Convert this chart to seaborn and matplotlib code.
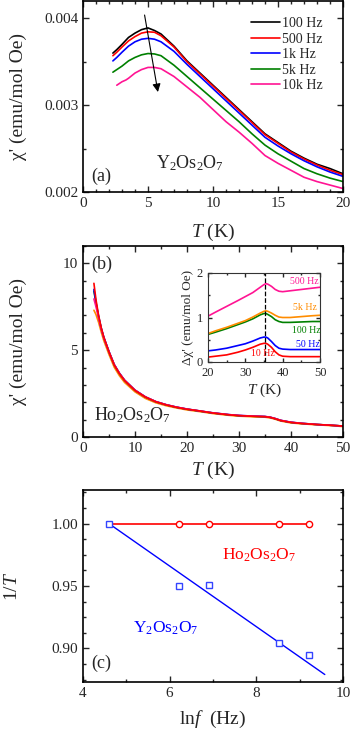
import numpy as np
import matplotlib
matplotlib.use("Agg")
import matplotlib.pyplot as plt
import seaborn as sns
from matplotlib.ticker import MultipleLocator, FormatStrFormatter

# ---- panel (a) : Y2Os2O7 chi' vs T ----
T_a = [2.3, 2.6, 3.0, 3.5, 4.0, 4.5, 5.0, 5.5, 6.0, 7.0, 8.0, 9.0, 10, 11, 12, 13, 14, 15, 16, 17, 18, 19, 20]
chi_100 = [3.60, 3.64, 3.70, 3.78, 3.83, 3.87, 3.89, 3.86, 3.82, 3.68, 3.51, 3.37, 3.23, 3.09, 2.95, 2.81, 2.67, 2.57, 2.47, 2.39, 2.32, 2.27, 2.21]
chi_500 = [3.57, 3.61, 3.67, 3.74, 3.79, 3.83, 3.845, 3.84, 3.80, 3.67, 3.50, 3.36, 3.22, 3.08, 2.94, 2.80, 2.66, 2.56, 2.46, 2.38, 2.31, 2.25, 2.20]
chi_1k = [3.51, 3.55, 3.61, 3.68, 3.73, 3.76, 3.77, 3.76, 3.73, 3.62, 3.47, 3.33, 3.19, 3.05, 2.91, 2.77, 2.63, 2.53, 2.44, 2.36, 2.29, 2.23, 2.18]
chi_5k = [3.38, 3.41, 3.45, 3.51, 3.55, 3.58, 3.595, 3.59, 3.57, 3.46, 3.33, 3.20, 3.07, 2.94, 2.81, 2.67, 2.54, 2.44, 2.355, 2.27, 2.21, 2.16, 2.12]
T_a10k = [2.6, 3.0, 3.3, 3.5, 4.0, 4.5, 5.0, 5.5, 6.0, 7.0, 8.0, 9.0, 10, 11, 12, 13, 14, 15, 16, 17, 18, 19, 20]
chi_10k = [3.23, 3.27, 3.29, 3.31, 3.37, 3.41, 3.435, 3.435, 3.42, 3.33, 3.21, 3.09, 2.95, 2.81, 2.69, 2.56, 2.42, 2.33, 2.25, 2.17, 2.12, 2.08, 2.04]
labels_a = ["100 Hz", "500 Hz", "1k Hz", "5k Hz", "10k Hz"]
colors_a = ["black", "#ff0000", "#0000ff", "#008000", "#ff1493"]

# ---- panel (b) : Ho2Os2O7 chi' vs T ----
T_b = [2.1, 2.5, 3, 3.5, 4, 5, 6, 7, 8, 10, 12, 14, 16, 18, 20, 22, 25, 28, 30, 33, 35, 36, 37, 38, 40, 42, 45, 48, 50]
ho_10 = [8.85, 7.90, 7.00, 6.30, 5.75, 4.90, 4.15, 3.65, 3.25, 2.68, 2.30, 2.03, 1.85, 1.71, 1.60, 1.52, 1.38, 1.28, 1.23, 1.19, 1.17, 1.13, 1.05, 0.95, 0.84, 0.78, 0.72, 0.67, 0.63]
ho_50 = [8.50, 7.75, 6.95, 6.28, 5.75, 4.92, 4.18, 3.68, 3.27, 2.70, 2.31, 2.04, 1.86, 1.72, 1.61, 1.52, 1.39, 1.29, 1.24, 1.20, 1.18, 1.14, 1.06, 0.96, 0.85, 0.79, 0.72, 0.67, 0.63]
ho_100 = [8.40, 7.70, 6.92, 6.25, 5.72, 4.90, 4.16, 3.66, 3.26, 2.69, 2.30, 2.03, 1.85, 1.71, 1.60, 1.51, 1.38, 1.28, 1.23, 1.19, 1.17, 1.13, 1.05, 0.95, 0.84, 0.78, 0.72, 0.67, 0.63]
ho_500 = [7.95, 7.50, 6.85, 6.22, 5.70, 4.90, 4.17, 3.67, 3.27, 2.70, 2.31, 2.04, 1.86, 1.72, 1.61, 1.52, 1.39, 1.29, 1.24, 1.20, 1.18, 1.14, 1.06, 0.96, 0.85, 0.79, 0.72, 0.67, 0.63]
ho_5k = [7.30, 7.05, 6.60, 6.05, 5.55, 4.75, 4.02, 3.53, 3.14, 2.60, 2.22, 1.97, 1.80, 1.67, 1.56, 1.48, 1.35, 1.25, 1.20, 1.16, 1.14, 1.10, 1.02, 0.92, 0.81, 0.76, 0.70, 0.65, 0.60]

# ---- inset : delta chi' ----
T_in = [20, 22, 25, 28, 30, 32, 34, 35, 35.5, 36, 37, 38, 39, 40, 42, 45, 48, 50]
d_500 = [1.03, 1.12, 1.25, 1.38, 1.47, 1.56, 1.68, 1.74, 1.76, 1.75, 1.70, 1.63, 1.59, 1.58, 1.60, 1.63, 1.66, 1.68]
d_5k = [0.64, 0.70, 0.78, 0.87, 0.93, 1.01, 1.10, 1.14, 1.15, 1.14, 1.10, 1.05, 1.01, 1.00, 1.00, 1.02, 1.04, 1.05]
d_100 = [0.62, 0.67, 0.75, 0.84, 0.90, 0.97, 1.06, 1.09, 1.09, 1.07, 1.02, 0.95, 0.91, 0.89, 0.89, 0.90, 0.91, 0.91]
d_50 = [0.25, 0.27, 0.31, 0.37, 0.41, 0.47, 0.54, 0.56, 0.56, 0.54, 0.46, 0.37, 0.31, 0.29, 0.28, 0.28, 0.28, 0.28]
d_10 = [0.11, 0.13, 0.16, 0.22, 0.27, 0.33, 0.40, 0.42, 0.42, 0.40, 0.33, 0.23, 0.16, 0.13, 0.12, 0.12, 0.12, 0.12]
T_peak = 35.2

# ---- panel (c) : 1/T vs ln f ----
lnf = [4.605, 6.215, 6.908, 8.517, 9.210]
inv_ho = [1.000, 1.000, 1.000, 1.000, 1.000]
inv_y = [1.000, 0.950, 0.951, 0.904, 0.895]
fit_x = [4.6, 9.58]
fit_y = [1.000, 0.879]

sns.set_style("ticks")
plt.rcParams['font.family'] = ['Liberation Serif', 'DejaVu Serif']
plt.rcParams['mathtext.fontset'] = 'custom'
plt.rcParams['mathtext.rm'] = 'Liberation Serif'
plt.rcParams['mathtext.it'] = 'Liberation Serif:italic'
plt.rcParams['axes.linewidth'] = 1.2
plt.rcParams['axes.edgecolor'] = 'black'

W, H = 354, 731
fig = plt.figure(figsize=(W / 100, H / 100), dpi=100)

def box(l, t, r, b):
    return [l / W, 1 - b / H, (r - l) / W, (b - t) / H]

def style(ax, xmin, ymin, size=11, major=4, minor=2):
    ax.xaxis.set_minor_locator(MultipleLocator(xmin))
    ax.yaxis.set_minor_locator(MultipleLocator(ymin))
    ax.tick_params(which='both', direction='in', top=True, right=True, labelsize=size, width=1)
    ax.tick_params(which='major', length=major)
    ax.tick_params(which='minor', length=minor)

ax_a = fig.add_axes(box(83, 1, 343, 192))
ax_b = fig.add_axes(box(83, 246, 343, 437))
ax_in = fig.add_axes(box(208, 273, 320, 362))
ax_c = fig.add_axes(box(83, 490, 343, 682))

# (a)
series_a = [(T_a, chi_100), (T_a, chi_500), (T_a, chi_1k), (T_a, chi_5k), (T_a10k, chi_10k)]
for (tt, vv), lab, col in zip(series_a, labels_a, colors_a):
    sns.lineplot(x=tt, y=np.array(vv) * 1e-3, ax=ax_a, color=col, lw=1.2, label=lab)
ax_a.set_xlim(0, 20)
ax_a.set_ylim(0.002, 0.0042)
ax_a.xaxis.set_major_locator(MultipleLocator(5))
ax_a.yaxis.set_major_locator(MultipleLocator(0.001))
ax_a.yaxis.set_major_formatter(FormatStrFormatter('%.3f'))
style(ax_a, 1, 0.0005)
ax_a.legend(loc='upper left', bbox_to_anchor=((251 - 83) / 260, 0.915), frameon=False,
            fontsize=10, handlelength=2.1, handletextpad=0.15, labelspacing=0.18,
            borderaxespad=0, borderpad=0)
ax_a.annotate('', xy=(5.8, 0.00312), xytext=(4.7, 0.00407),
              arrowprops=dict(arrowstyle='-|>', color='black', lw=0.8, mutation_scale=12))
ax_a.text(0.65, 0.00213, '(a)', fontsize=13, va='baseline')
ax_a.text(5.6, 0.00227, 'Y$_2$Os$_2$O$_7$', fontsize=13, va='baseline')
ax_a.set_xlabel('$T$ (K)', fontsize=14)
ax_a.set_ylabel("\u03c7' (emu/mol Oe)", fontsize=14)
ax_a.xaxis.set_label_coords(0.5, -0.155)
ax_a.yaxis.set_label_coords(-0.215, 0.5)

# (b)
series_b = [(ho_5k, "#ff8c00"), (ho_100, "#008000"), (ho_50, "#0000ff"), (ho_500, "#ff1493"), (ho_10, "#ff0000")]
for vv, col in series_b:
    sns.lineplot(x=T_b, y=vv, ax=ax_b, color=col, lw=1.2)
ax_b.set_xlim(0, 50)
ax_b.set_ylim(0, 11)
ax_b.xaxis.set_major_locator(MultipleLocator(10))
ax_b.yaxis.set_major_locator(MultipleLocator(5))
style(ax_b, 5, 1)
ax_b.text(1.6, 9.95, '(b)', fontsize=13, va='center')
ax_b.text(2.2, 0.95, 'Ho$_2$Os$_2$O$_7$', fontsize=13, va='baseline')
ax_b.set_xlabel('$T$ (K)', fontsize=14)
ax_b.set_ylabel("\u03c7' (emu/mol Oe)", fontsize=14)
ax_b.xaxis.set_label_coords(0.5, -0.12)
ax_b.yaxis.set_label_coords(-0.215, 0.5)

# inset
series_in = [(d_10, "#ff0000", "10 Hz", 34.7, 0.19), (d_50, "#0000ff", "50 Hz", 46.8, 0.40),
             (d_100, "#008000", "100 Hz", 46.2, 0.70), (d_5k, "#ff8c00", "5k Hz", 46.0, 1.22),
             (d_500, "#ff1493", "500 Hz", 45.7, 1.80)]
for vv, col, lab, tx, ty in series_in:
    sns.lineplot(x=T_in, y=vv, ax=ax_in, color=col, lw=1.2)
    ax_in.text(tx, ty, lab, color=col, fontsize=7, ha='center', va='center')
ax_in.axvline(T_peak, color='black', ls='--', lw=0.9)
ax_in.set_xlim(20, 50)
ax_in.set_ylim(0, 2)
ax_in.xaxis.set_major_locator(MultipleLocator(10))
ax_in.yaxis.set_major_locator(MultipleLocator(1))
style(ax_in, 5, 0.5, size=9, major=3, minor=1.5)
for s in ax_in.spines.values():
    s.set_linewidth(0.8)
    s.set_color('#333333')
ax_in.set_xlabel('$T$ (K)', fontsize=11, labelpad=2)
ax_in.set_ylabel("\u0394\u03c7' (emu/mol Oe)", fontsize=9.5, labelpad=2)

# (c)
sns.lineplot(x=lnf, y=inv_ho, ax=ax_c, color='#ff0000', lw=1.2, marker='o', ms=4.5,
             mfc='white', mec='#ff0000', mew=1, markevery=[1, 2, 3, 4])
sns.lineplot(x=fit_x, y=fit_y, ax=ax_c, color='#0000ff', lw=1.0)
sns.lineplot(x=lnf, y=inv_y, ax=ax_c, color='#3344ff', ls='none', marker='s', ms=4.5,
             mfc='white', mec='#3344ff', mew=1)
ax_c.set_xlim(4, 10)
ax_c.set_ylim(0.873, 1.027)
ax_c.xaxis.set_major_locator(MultipleLocator(2))
ax_c.yaxis.set_major_locator(MultipleLocator(0.05))
ax_c.yaxis.set_major_formatter(FormatStrFormatter('%.2f'))
style(ax_c, 1, 0.0125)
ax_c.text(4.2, 0.884, '(c)', fontsize=13, va='baseline')
ax_c.text(7.2, 0.971, 'Ho$_2$Os$_2$O$_7$', fontsize=12.5, color='#ff0000', va='baseline')
ax_c.text(5.15, 0.913, 'Y$_2$Os$_2$O$_7$', fontsize=12.5, color='#0000ff', va='baseline')
ax_c.set_xlabel('ln$f$  (Hz)', fontsize=14)
ax_c.set_ylabel('1/$T$', fontsize=14)
ax_c.xaxis.set_label_coords(0.5, -0.14)
ax_c.yaxis.set_label_coords(-0.24, 0.5)

fig.savefig('out.png', dpi=100)
